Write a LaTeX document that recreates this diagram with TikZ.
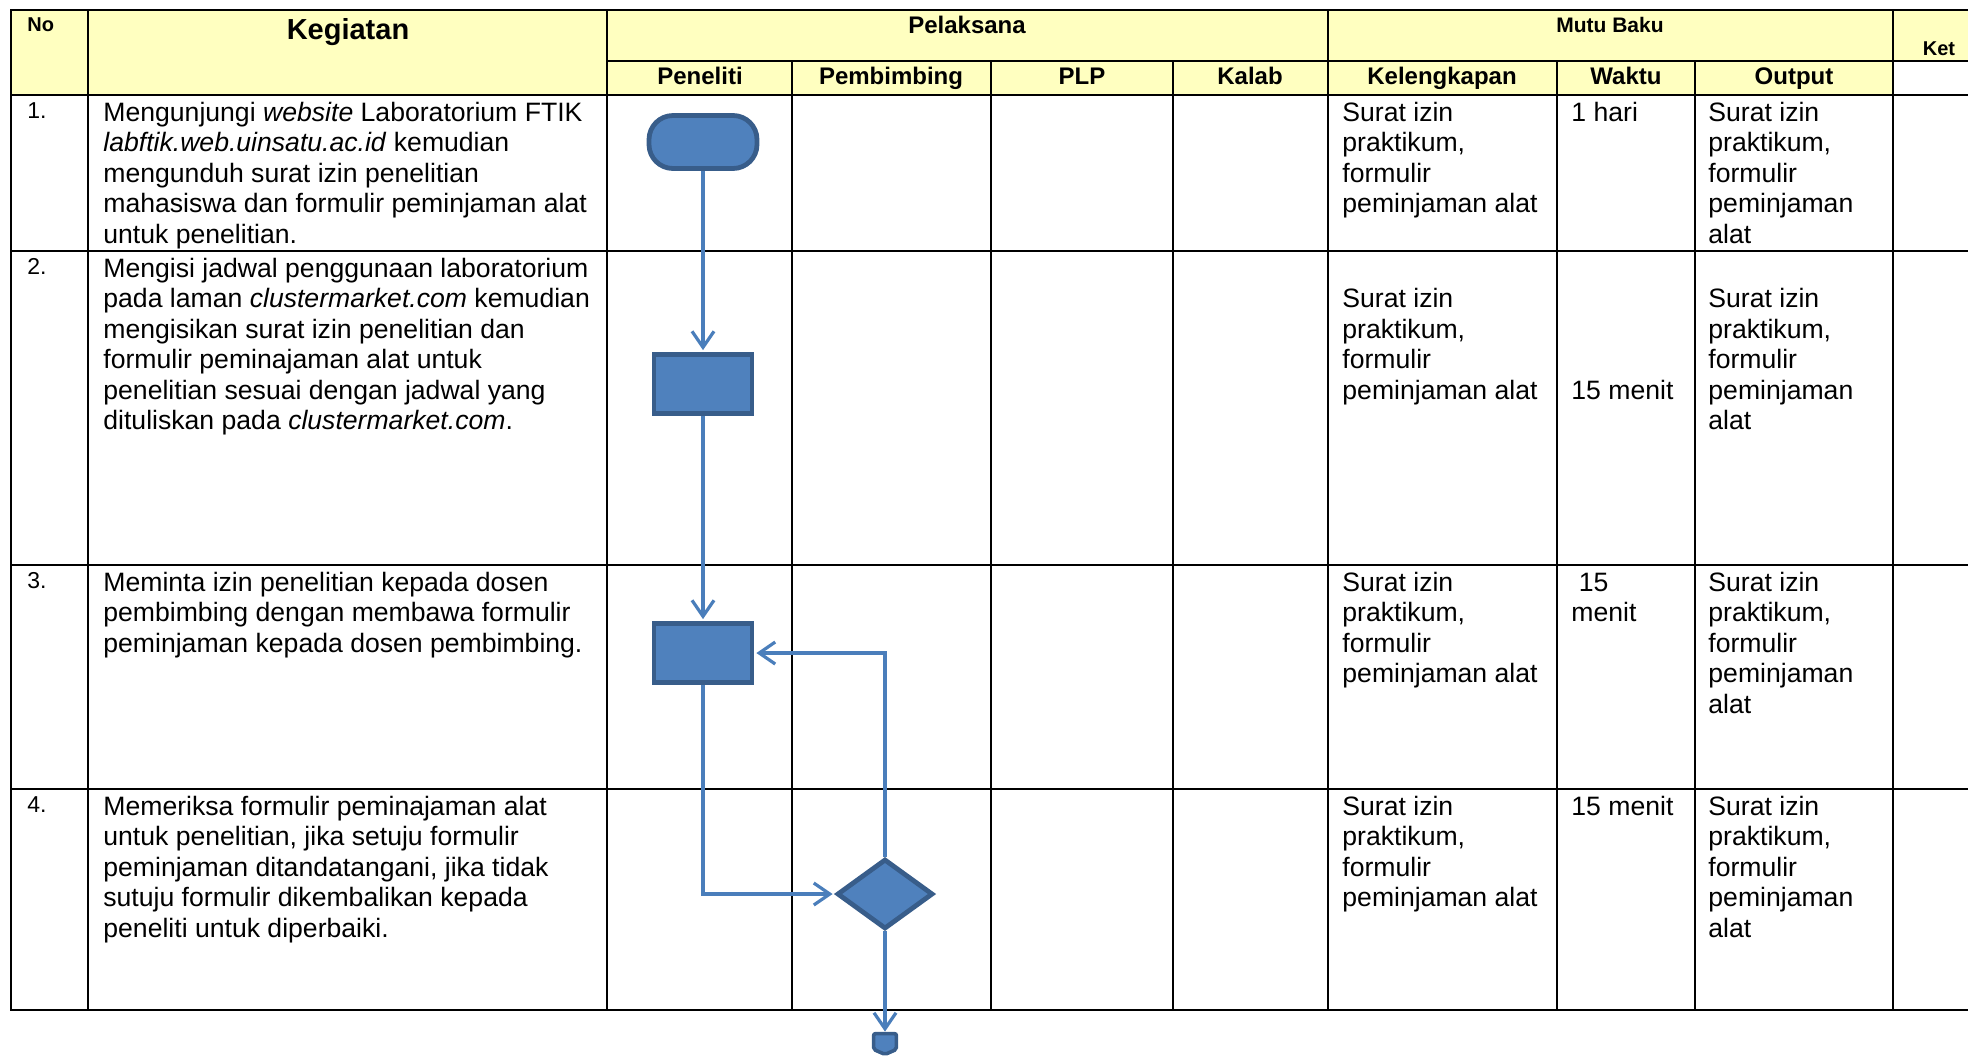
\documentclass[tikz,border=0pt]{standalone}
\usepackage{fontspec}
\setmainfont{Liberation Sans}
\usetikzlibrary{shapes.geometric,arrows.meta,positioning}
\definecolor{hdryellow}{HTML}{FFFFC0}
\definecolor{flowfill}{HTML}{4F81BD}
\definecolor{flowline}{HTML}{385D8A}
\definecolor{arrowblue}{HTML}{4A7EBB}
\tikzset{
  tableline/.style={line width=1.1pt,black,line cap=rect},
  flowshape/.style={fill=flowfill,draw=flowline,line width=2.4pt,inner sep=0pt},
  flowarrow/.style={draw=arrowblue,line width=1.6pt,shorten >=1pt,-{Straight Barb[length=8pt,width=11pt]}},
  colhead/.style={anchor=base,inner sep=0pt,font=\bfseries\fontsize{12}{14}\selectfont},
  celltext/.style={anchor=north west,inner sep=0pt,align=left,font=\fontsize{13.3}{15.25}\selectfont},
  rownum/.style={anchor=base west,inner sep=0pt,font=\fontsize{11.5}{13}\selectfont}
}
\begin{document}
\begin{tikzpicture}[x=0.5pt,y=-0.5pt]
	\useasboundingbox (0,0) rectangle (1968,1057);
	% header background
	\fill[hdryellow] (11,10) rectangle (1893,95);
	\fill[hdryellow] (1893,10) rectangle (1968,61);
	% the table lines
	\foreach \yy in {10,95,251,565,789,1010}
		\draw[tableline] (11,\yy) -- (1967,\yy);
	\draw[tableline] (607,61) -- (1967,61);
	\foreach \xx in {11,88,607,1328,1893}
		\draw[tableline] (\xx,10) -- (\xx,1010);
	\foreach \xx in {792,991,1173,1557,1695}
		\draw[tableline] (\xx,61) -- (\xx,1010);
	%% the header texts
	\node[anchor=base west,inner sep=0pt,font=\bfseries\fontsize{10}{12}\selectfont] (hno) at (27,31) {No};
	\node[colhead,font=\bfseries\fontsize{14.5}{17}\selectfont] (hkeg) at (348,39) {Kegiatan};
	\node[colhead] (hpel) at (967,33) {Pelaksana};
	\node[colhead,font=\bfseries\fontsize{10.5}{12}\selectfont] (hmutu) at (1610,32) {Mutu Baku};
	\node[colhead,font=\bfseries\fontsize{10}{12}\selectfont] (hket) at (1939,55) {Ket};
	\node[colhead] (hpen) at (700,84) {Peneliti};
	\node[colhead] (hpem) at (891,84) {Pembimbing};
	\node[colhead] (hplp) at (1082,84) {PLP};
	\node[colhead] (hkal) at (1250,84) {Kalab};
	\node[colhead] (hkel) at (1442,84) {Kelengkapan};
	\node[colhead] (hwak) at (1626,84) {Waktu};
	\node[colhead] (hout) at (1794,84) {Output};
	%% row 1
	\node[rownum] (no1) at (27,118) {1.};
	\node[celltext] (keg1) at (103,99.6) {\strut Mengunjungi \textit{website} Laboratorium FTIK\\
		\textit{labftik.web.uinsatu.ac.id} kemudian\\ mengunduh surat izin penelitian\\
		mahasiswa dan formulir peminjaman alat\\ untuk penelitian.};
	\node[celltext] (kel1) at (1342,99.6) {\strut Surat izin\\ praktikum,\\ formulir\\ peminjaman alat};
	\node[celltext] (wak1) at (1571,99.6) {\strut 1 hari};
	\node[celltext] (out1) at (1708,99.6) {\strut Surat izin\\ praktikum,\\ formulir\\ peminjaman\\ alat};
	%% row 2
	\node[rownum] (no2) at (27,274) {2.};
	\node[celltext] (keg2) at (103,255.6) {\strut Mengisi jadwal penggunaan laboratorium\\
		pada laman \textit{clustermarket.com} kemudian\\ mengisikan surat izin penelitian dan\\
		formulir peminajaman alat untuk\\ penelitian sesuai dengan jadwal yang\\
		dituliskan pada \textit{clustermarket.com}.};
	\node[celltext] (kel2) at (1342,286.1) {\strut Surat izin\\ praktikum,\\ formulir\\ peminjaman alat};
	\node[celltext] (wak2) at (1571,377.6) {\strut 15 menit};
	\node[celltext] (out2) at (1708,286.1) {\strut Surat izin\\ praktikum,\\ formulir\\ peminjaman\\ alat};
	%% row 3
	\node[rownum] (no3) at (27,588) {3.};
	\node[celltext] (keg3) at (103,569.6) {\strut Meminta izin penelitian kepada dosen\\
		pembimbing dengan membawa formulir\\ peminjaman kepada dosen pembimbing.};
	\node[celltext] (kel3) at (1342,569.6) {\strut Surat izin\\ praktikum,\\ formulir\\ peminjaman alat};
	\node[celltext] (wak3) at (1571,569.6) {\strut\kern3.7pt 15\\ menit};
	\node[celltext] (out3) at (1708,569.6) {\strut Surat izin\\ praktikum,\\ formulir\\ peminjaman\\ alat};
	%% row 4
	\node[rownum] (no4) at (27,812) {4.};
	\node[celltext] (keg4) at (103,793.6) {\strut Memeriksa formulir peminajaman alat\\
		untuk penelitian, jika setuju formulir\\ peminjaman ditandatangani, jika tidak\\
		sutuju formulir dikembalikan kepada\\ peneliti untuk diperbaiki.};
	\node[celltext] (kel4) at (1342,793.6) {\strut Surat izin\\ praktikum,\\ formulir\\ peminjaman alat};
	\node[celltext] (wak4) at (1571,793.6) {\strut 15 menit};
	\node[celltext] (out4) at (1708,793.6) {\strut Surat izin\\ praktikum,\\ formulir\\ peminjaman\\ alat};
	% the flow symbols
	\node[flowshape,rectangle,rounded corners=12pt,minimum width=54pt,minimum height=26.5pt] (mulai) at (703,142) {};
	\node[flowshape,rectangle,minimum width=49pt,minimum height=29.5pt] (isi) at (703,384) {};
	\node[flowshape,rectangle,minimum width=49pt,minimum height=29.5pt] (izin) at (703,653) {};
	\node[flowshape,diamond,minimum width=48pt,minimum height=35pt] (cek) at (885,894) {};
	\node[inner sep=0pt,minimum width=11pt,minimum height=10pt] (lanjut) at (885,1044) {};
	\draw[flowshape,line width=1.8pt,rounded corners=1pt] (lanjut.north west) -- (lanjut.north east)
		-- ([yshift=2.5pt]lanjut.south east) -- (lanjut.south) -- ([yshift=2.5pt]lanjut.south west) -- cycle;
	% the connectors
	\draw[flowarrow] (mulai.south) -- (isi.north);
	\draw[flowarrow] (isi.south) -- (izin.north);
	\draw[flowarrow] (izin.south) |- (cek.west);
	\draw[flowarrow] (cek.north) |- (izin.east);
	\draw[flowarrow] (cek.south) -- (lanjut.north);
\end{tikzpicture}
\end{document}
